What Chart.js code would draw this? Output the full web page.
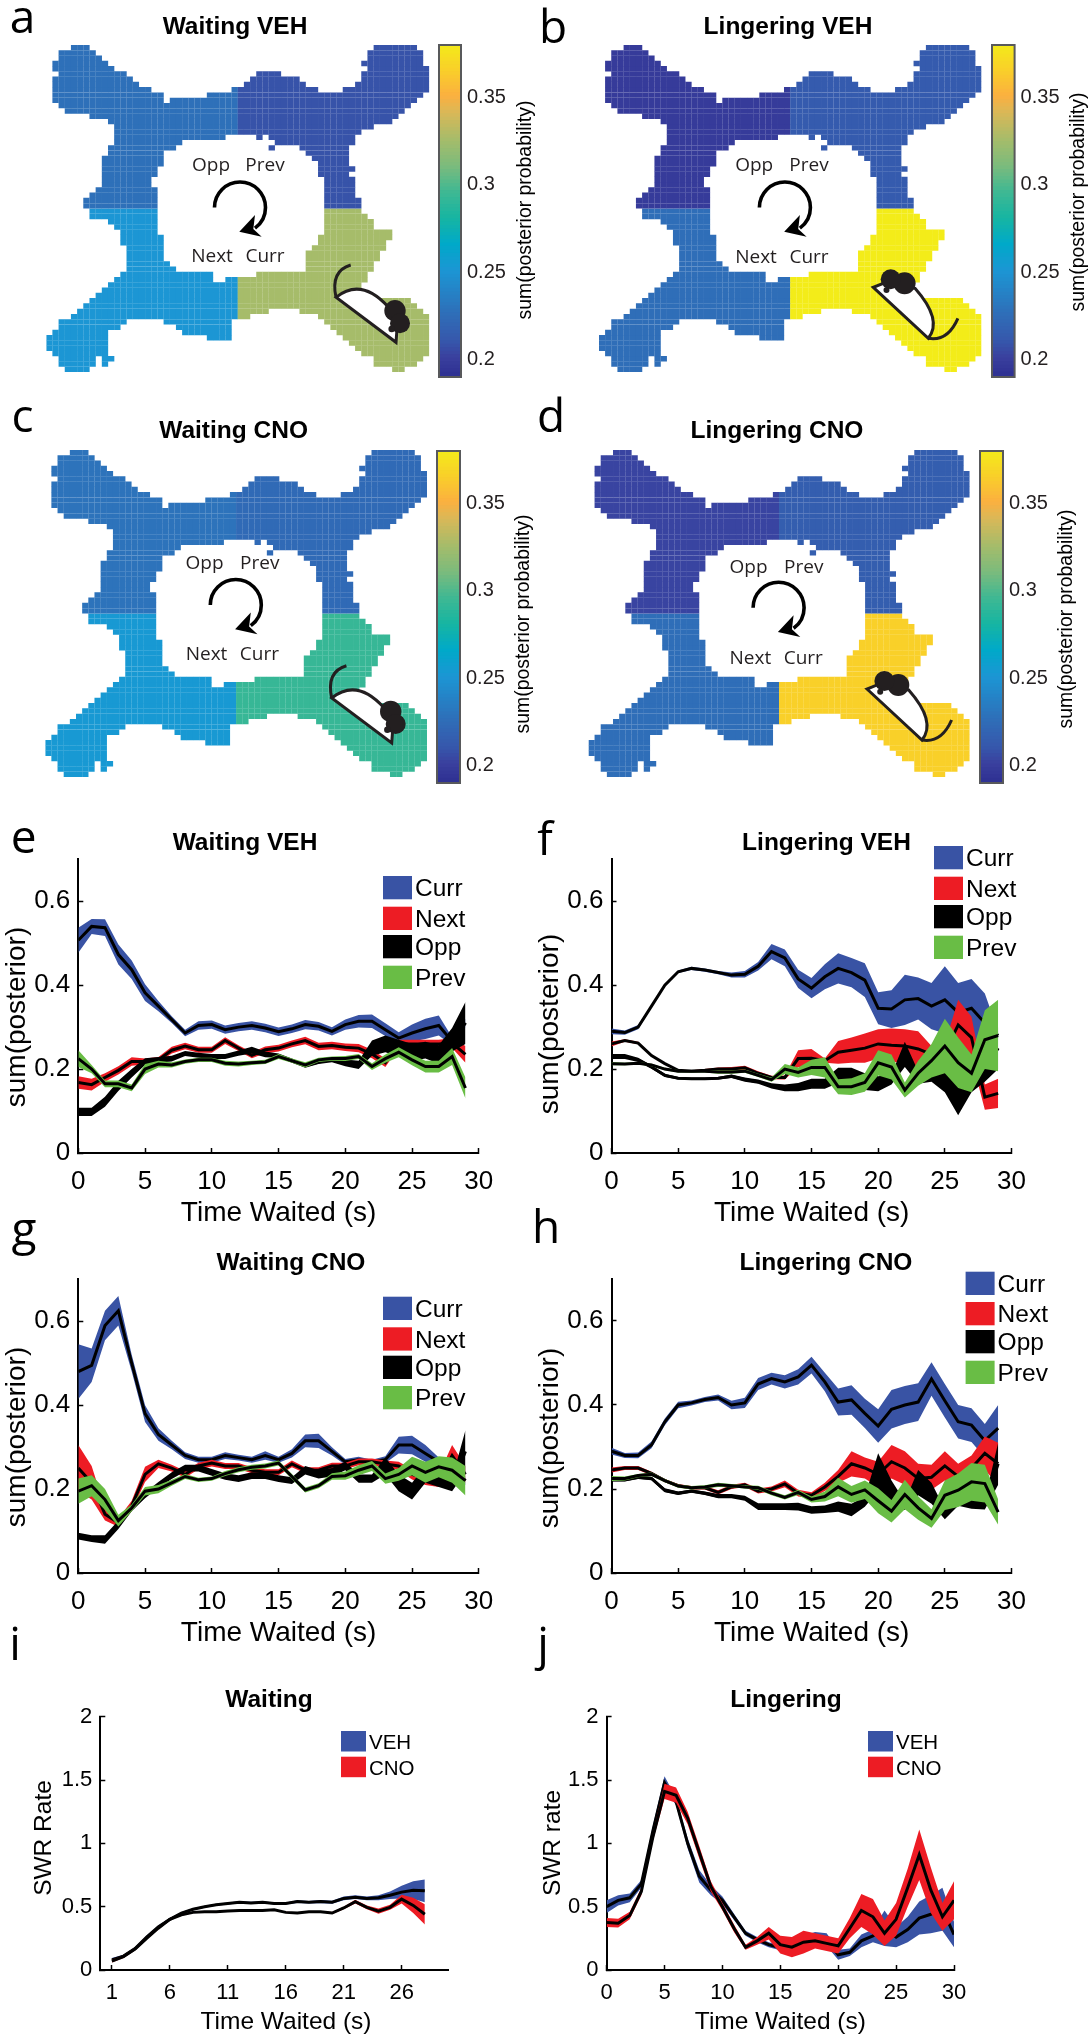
<!DOCTYPE html>
<html>
<head>
<meta charset="utf-8">
<title>Posterior by maze arm</title>
<script src="https://cdn.jsdelivr.net/npm/chart.js@4"></script>
<style>
  html, body { margin: 0; padding: 0; background: #fff; }
  #page { position: relative; width: 1092px; height: 2040px; overflow: hidden; }
  canvas { position: absolute; }
</style>
</head>
<body>
<div id="page"></div>
<script>
'use strict';

// --- maze occupancy, one list of [from, to) column runs per row ---
var MAZE_ROWS = [
  [[4,7],[53,60]], [[2,8],[52,61]], [[2,9],[52,61]], [[1,10],[51,61]], [[1,11],[52,62]],
  [[2,13],[34,38],[51,62]], [[1,14],[33,41],[51,62]], [[1,15],[32,42],[50,62]], [[1,17],[30,44],[48,62]],
  [[1,19],[26,61]], [[1,19],[20,60]], [[2,59]], [[3,58]], [[7,57]], [[10,56]], [[11,53]], [[11,51]],
  [[11,29],[34,35],[36,50]], [[11,22],[37,50]], [[10,21],[36,37],[41,49]], [[10,19],[42,49]],
  [[9,19],[43,49]], [[9,19],[44,49]], [[9,18],[44,50]], [[9,18],[44,49]], [[9,17],[45,50]], [[9,17],[45,50]],
  [[8,18],[45,50]], [[7,18],[45,50]], [[6,18],[45,51]], [[6,18],[45,51]],
  [[7,18],[45,51]], [[7,18],[45,52]], [[10,18],[45,53]], [[11,18],[45,53]], [[12,18],[45,56]],
  [[12,19],[44,56]], [[12,19],[44,55]], [[13,19],[43,55]], [[13,19],[42,54]], [[13,19],[42,54]],
  [[13,20],[42,53]], [[13,21],[42,53]], [[12,27],[34,52]], [[11,27],[29,52]], [[10,51]], [[9,51]], [[8,51]],
  [[7,59]], [[6,60]], [[5,36],[41,61]], [[4,33],[44,62]], [[2,13],[19,30],[45,62]], [[2,12],[21,30],[46,62]],
  [[1,10],[22,30],[47,62]], [[0,10],[26,30],[48,62]], [[0,10],[49,62]], [[0,10],[50,62]], [[1,10],[51,62]],
  [[2,8],[9,11],[53,61]], [[2,8],[9,10],[53,60]], [[3,7],[56,58]]
];

// summed posterior per arm: opp, prev, next, curr
var MAP_WAIT_VEH = [0.226, 0.208, 0.25, 0.325];
var MAP_LING_VEH = [0.197, 0.212, 0.225, 0.38];
var MAP_WAIT_CNO = [0.228, 0.222, 0.252, 0.292];
var MAP_LING_CNO = [0.202, 0.214, 0.225, 0.365];

var CBAR_TICKS = [0.2, 0.25, 0.3, 0.35];
var CBAR_VALUES = [0.19, 0.2, 0.21, 0.225, 0.25, 0.265, 0.28, 0.295, 0.31, 0.325, 0.34, 0.35, 0.365, 0.38];
var CBAR_COLORS = ['#2e3192', '#3a3f9e', '#3658ac', '#2f6eb8', '#1c96d4', '#00a9c9', '#16b5a2', '#3fb893', '#7cbb7c', '#a6bc6a', '#d8b858', '#fbb040', '#f9d029', '#f3ec19'];

var X_TICKS = [0, 5, 10, 15, 20, 25, 30];
var X_TICKS_SWR_WAIT = [1, 6, 11, 16, 21, 26];
var Y_TICKS_POST = [0, 0.2, 0.4, 0.6];
var Y_TICKS_SWR = [0, 0.5, 1, 1.5, 2];

var SEC_30 = [0,1,2,3,4,5,6,7,8,9,10,11,12,13,14,15,16,17,18,19,20,21,22,23,24,25,26,27,28,29];
var SEC_28 = [1,2,3,4,5,6,7,8,9,10,11,12,13,14,15,16,17,18,19,20,21,22,23,24,25,26,27,28];
var SEC_31 = [0,1,2,3,4,5,6,7,8,9,10,11,12,13,14,15,16,17,18,19,20,21,22,23,24,25,26,27,28,29,30];

// e: waiting VEH
var E_CURR = [.507,.54,.537,.473,.437,.382,.35,.318,.286,.304,.306,.294,.30,.304,.298,.289,.296,.306,.302,.29,.306,.314,.314,.294,.274,.286,.296,.304,.266,.31];
var E_CURR_SEM = [.03,.018,.02,.024,.022,.02,.012,.008,.008,.01,.01,.01,.01,.01,.01,.01,.01,.011,.01,.01,.012,.015,.016,.015,.014,.02,.024,.024,.01,.01];
var E_NEXT = [.168,.163,.18,.197,.218,.218,.222,.245,.255,.246,.246,.268,.25,.233,.246,.25,.26,.268,.254,.256,.252,.25,.236,.215,.26,.26,.26,.26,.262,.235];
var E_NEXT_SEM = [.015,.014,.01,.01,.01,.007,.007,.008,.008,.007,.007,.008,.007,.007,.008,.008,.008,.009,.009,.009,.009,.01,.01,.01,.01,.01,.01,.01,.012,.02];
var E_OPP = [.098,.098,.122,.16,.19,.218,.222,.225,.237,.233,.23,.23,.238,.245,.235,.232,.22,.208,.217,.222,.215,.21,.25,.26,.25,.24,.245,.235,.27,.31];
var E_OPP_SEM = [.01,.01,.012,.012,.01,.008,.007,.007,.006,.006,.006,.006,.006,.008,.007,.005,.005,.005,.005,.006,.008,.01,.018,.02,.02,.02,.02,.022,.028,.05];
var E_PREV = [.225,.2,.165,.165,.155,.2,.212,.21,.218,.222,.222,.214,.212,.215,.217,.23,.22,.21,.222,.225,.225,.23,.206,.225,.24,.222,.206,.206,.23,.155];
var E_PREV_SEM = [.02,.01,.008,.008,.008,.012,.008,.006,.005,.005,.005,.006,.006,.005,.005,.006,.005,.006,.005,.005,.006,.006,.008,.01,.012,.013,.014,.014,.02,.025];

// f: lingering VEH
var F_CURR = [.29,.287,.30,.35,.40,.432,.44,.436,.43,.424,.426,.445,.48,.465,.415,.393,.42,.44,.43,.412,.345,.343,.365,.368,.35,.365,.335,.345,.31,.28];
var F_CURR_SEM = [.007,.005,.005,.003,.003,.003,.004,.004,.004,.006,.008,.01,.018,.02,.022,.024,.03,.036,.035,.04,.038,.045,.06,.05,.055,.08,.07,.07,.07,.01];
var F_NEXT = [.26,.268,.262,.232,.213,.197,.195,.197,.2,.2,.203,.19,.18,.18,.225,.226,.22,.24,.245,.25,.26,.257,.255,.248,.235,.24,.305,.275,.133,.142];
var F_NEXT_SEM = [.006,.003,.003,.002,.002,.002,.002,.003,.004,.005,.005,.005,.004,.005,.02,.022,.005,.027,.03,.035,.035,.04,.04,.042,.02,.02,.06,.05,.03,.035];
var F_OPP = [.23,.23,.222,.205,.185,.178,.177,.177,.178,.183,.175,.17,.16,.155,.157,.165,.165,.185,.185,.17,.165,.175,.235,.18,.2,.185,.13,.165,.2,.25];
var F_OPP_SEM = [.006,.006,.005,.004,.004,.003,.003,.003,.003,.004,.005,.005,.006,.008,.01,.012,.012,.018,.018,.02,.018,.012,.03,.015,.03,.04,.04,.02,.03,.05];
var F_PREV = [.213,.212,.214,.21,.2,.195,.195,.195,.193,.193,.195,.185,.175,.2,.192,.204,.204,.158,.158,.168,.215,.205,.15,.19,.22,.255,.215,.19,.27,.28];
var F_PREV_SEM = [.004,.003,.003,.003,.003,.003,.003,.003,.004,.004,.004,.004,.005,.012,.012,.018,.024,.018,.02,.022,.03,.03,.018,.03,.04,.065,.06,.045,.07,.085];

// g: waiting CNO
var G_CURR = [.48,.495,.59,.625,.50,.38,.33,.305,.28,.27,.27,.28,.275,.27,.28,.27,.285,.315,.315,.29,.265,.27,.265,.27,.305,.305,.285,.265,.25,.22];
var G_CURR_SEM = [.065,.04,.035,.035,.02,.02,.015,.01,.008,.007,.007,.008,.007,.007,.01,.007,.01,.015,.017,.01,.007,.007,.005,.008,.02,.022,.02,.01,.01,.01];
var G_NEXT = [.25,.215,.14,.12,.16,.235,.26,.25,.235,.255,.262,.255,.255,.245,.24,.24,.26,.245,.245,.255,.255,.265,.265,.26,.255,.235,.225,.22,.28,.235];
var G_NEXT_SEM = [.055,.04,.015,.01,.012,.018,.01,.008,.008,.008,.008,.007,.007,.007,.007,.007,.008,.007,.007,.008,.008,.008,.008,.008,.01,.012,.015,.015,.025,.02];
var G_OPP = [.088,.082,.08,.115,.155,.185,.21,.232,.25,.25,.24,.23,.225,.232,.232,.225,.22,.245,.235,.24,.255,.225,.225,.255,.215,.195,.235,.22,.21,.29];
var G_OPP_SEM = [.008,.008,.01,.01,.008,.007,.007,.008,.008,.008,.008,.008,.008,.008,.008,.008,.008,.01,.01,.01,.01,.01,.01,.02,.02,.02,.02,.015,.015,.05];
var G_PREV = [.195,.208,.175,.125,.155,.195,.2,.215,.23,.222,.225,.237,.246,.252,.255,.262,.23,.198,.208,.23,.232,.245,.255,.225,.235,.255,.24,.253,.245,.22];
var G_PREV_SEM = [.03,.025,.025,.014,.008,.01,.01,.007,.006,.005,.005,.006,.006,.006,.006,.006,.006,.006,.006,.008,.01,.012,.012,.012,.015,.022,.025,.025,.03,.035];

// h: lingering CNO
var H_CURR = [.29,.28,.28,.305,.36,.40,.405,.413,.418,.40,.405,.45,.463,.455,.467,.495,.455,.407,.412,.38,.35,.39,.40,.407,.462,.41,.36,.352,.315,.345];
var H_CURR_SEM = [.008,.006,.007,.008,.008,.008,.006,.006,.007,.01,.012,.014,.014,.016,.018,.02,.022,.032,.035,.035,.04,.046,.045,.045,.04,.04,.04,.04,.04,.055];
var H_NEXT = [.245,.25,.25,.237,.22,.208,.203,.203,.192,.205,.21,.195,.2,.212,.19,.185,.205,.23,.26,.25,.235,.265,.25,.225,.228,.255,.23,.25,.285,.26];
var H_NEXT_SEM = [.006,.005,.005,.004,.004,.004,.004,.004,.005,.005,.005,.006,.006,.008,.008,.007,.01,.015,.03,.025,.03,.04,.04,.035,.03,.035,.03,.03,.04,.05];
var H_OPP = [.222,.222,.228,.225,.197,.19,.195,.19,.183,.183,.178,.158,.158,.158,.158,.15,.152,.158,.15,.17,.24,.19,.16,.215,.19,.14,.175,.165,.163,.26];
var H_OPP_SEM = [.004,.004,.004,.004,.005,.004,.004,.004,.005,.005,.006,.008,.008,.008,.009,.009,.009,.012,.015,.012,.045,.03,.01,.03,.025,.012,.015,.012,.012,.05];
var H_PREV = [.225,.225,.232,.235,.22,.207,.203,.205,.21,.208,.205,.203,.19,.18,.192,.175,.182,.205,.187,.198,.172,.147,.187,.155,.13,.185,.197,.217,.213,.145];
var H_PREV_SEM = [.006,.005,.004,.004,.004,.004,.004,.004,.005,.004,.004,.005,.005,.005,.006,.007,.012,.022,.02,.022,.03,.027,.035,.028,.022,.035,.04,.045,.045,.03];

// i: SWR rate while waiting
var I_VEH = [.08,.11,.17,.26,.34,.40,.45,.48,.50,.515,.525,.535,.53,.535,.525,.525,.54,.535,.54,.535,.565,.575,.565,.57,.59,.615,.63,.625];
var I_VEH_SEM = [.015,.01,.01,.012,.012,.01,.008,.008,.008,.008,.008,.008,.008,.008,.008,.008,.01,.01,.012,.012,.015,.015,.015,.02,.03,.05,.07,.09];
var I_CNO = [.07,.105,.165,.25,.33,.40,.435,.455,.46,.46,.465,.47,.47,.47,.475,.455,.45,.46,.46,.45,.49,.54,.495,.465,.495,.56,.51,.44];
var I_CNO_SEM = [.01,.01,.01,.01,.01,.008,.006,.005,.005,.005,.005,.005,.005,.005,.005,.005,.006,.005,.005,.008,.01,.015,.015,.02,.02,.035,.06,.08];

// j: SWR rate while lingering
var J_VEH = [.50,.55,.57,.68,1.1,1.48,1.33,1.0,.74,.63,.55,.42,.29,.24,.20,.175,.175,.22,.25,.24,.12,.14,.23,.27,.33,.26,.32,.41,.44,.48,.28];
var J_VEH_SEM = [.05,.04,.035,.03,.04,.05,.03,.04,.05,.04,.03,.025,.02,.02,.02,.02,.02,.05,.05,.05,.04,.03,.05,.05,.14,.08,.1,.13,.15,.17,.1];
var J_CNO = [.375,.37,.43,.62,1.05,1.41,1.38,1.2,.93,.66,.5,.33,.18,.23,.29,.2,.18,.22,.23,.21,.19,.33,.47,.42,.29,.4,.65,.91,.63,.42,.55];
var J_CNO_SEM = [.035,.035,.03,.03,.03,.06,.06,.05,.05,.04,.03,.03,.02,.03,.05,.07,.08,.09,.06,.06,.06,.08,.13,.14,.1,.13,.15,.2,.18,.11,.15];

var BLUE = '#3953a4', RED = '#ed1c24', BLACK = '#000000', GREEN = '#69bd45';
var INK = '#231f20';
var SANS = '"Liberation Sans", Arial, sans-serif';
var OPEN = '"Open Sans", sans-serif';

Chart.defaults.animation = false;
Chart.defaults.responsive = false;

function hexRgb(h) {
  return [parseInt(h.slice(1, 3), 16), parseInt(h.slice(3, 5), 16), parseInt(h.slice(5, 7), 16)];
}

// value to colour, same lookup for the maps and the colour bars
function cmap(v) {
  var i = 0;
  while (i < CBAR_VALUES.length - 2 && v > CBAR_VALUES[i + 1]) i++;
  var f = Math.min(1, Math.max(0, (v - CBAR_VALUES[i]) / (CBAR_VALUES[i + 1] - CBAR_VALUES[i])));
  var a = hexRgb(CBAR_COLORS[i]), b = hexRgb(CBAR_COLORS[i + 1]);
  return 'rgb(' + [0, 1, 2].map(function(k) { return Math.round(a[k] + (b[k] - a[k]) * f); }).join(',') + ')';
}

function addCanvas(frame) {
  var c = document.createElement('canvas');
  c.width = frame.w;
  c.height = frame.h;
  c.style.left = frame.x + 'px';
  c.style.top = frame.y + 'px';
  document.getElementById('page').appendChild(c);
  return c;
}

// free-placed text and legend patches, given in page coordinates
var pageText = {
  id: 'pageText',
  afterDraw: function(chart, args, opts) {
    var ctx = chart.ctx, fr = opts.frame;
    ctx.save();
    (opts.patches || []).forEach(function(p) {
      ctx.fillStyle = p.color;
      ctx.fillRect(p.x - fr.x, p.y - fr.y, p.w, p.h);
    });
    (opts.items || []).forEach(function(t) {
      ctx.save();
      ctx.translate(t.x - fr.x, t.y - fr.y);
      if (t.rot) ctx.rotate(t.rot);
      ctx.font = t.font;
      ctx.fillStyle = t.color || '#000';
      ctx.textAlign = t.align || 'center';
      ctx.textBaseline = t.base || 'middle';
      ctx.fillText(t.t, 0, 0);
      ctx.restore();
    });
    ctx.restore();
  }
};

var cbarFrame = {
  id: 'cbarFrame',
  afterDraw: function(chart) {
    var a = chart.chartArea, ctx = chart.ctx;
    ctx.save();
    ctx.strokeStyle = '#58595b';
    ctx.lineWidth = 2;
    ctx.strokeRect(a.left, a.top, a.right - a.left, a.bottom - a.top);
    ctx.restore();
  }
};

// turn arrow and the rat sketch on top of a map
var mapSketch = {
  id: 'mapSketch',
  afterDraw: function(chart, args, o) {
    var ctx = chart.ctx, a = chart.chartArea;
    ctx.save();
    ctx.translate(a.left, a.top);
    ctx.strokeStyle = '#000';
    ctx.fillStyle = '#000';
    ctx.lineWidth = 3.6;
    ctx.beginPath();
    ctx.arc(o.arrow[0], o.arrow[1], 25.5, Math.PI, Math.PI * 2.3);
    ctx.stroke();
    ctx.save();
    ctx.translate(o.arrow[0], o.arrow[1]);
    ctx.beginPath();
    ctx.moveTo(-0.7, 24.2);
    ctx.lineTo(15, 7.5);
    ctx.lineTo(13.3, 21.5);
    ctx.lineTo(21.7, 29.2);
    ctx.closePath();
    ctx.fill();
    ctx.restore();

    ctx.translate(o.rat[0], o.rat[1]);
    ctx.strokeStyle = INK;
    ctx.fillStyle = INK;
    ctx.lineWidth = 3;
    ctx.lineJoin = 'miter';
    if (o.pose === 'down') {
      ctx.beginPath();
      ctx.moveTo(289.7, 252.3);
      ctx.quadraticCurveTo(315, 232, 342, 262);
      ctx.lineTo(351, 280);
      ctx.lineTo(349.7, 297.3);
      ctx.closePath();
      ctx.fillStyle = '#fff';
      ctx.fill();
      ctx.stroke();
      ctx.beginPath();
      ctx.moveTo(304.4, 220);
      ctx.quadraticCurveTo(284, 226, 289.7, 252.3);
      ctx.stroke();
      ctx.fillStyle = INK;
      [[348.7, 265.7, 10.7], [353.7, 278.3, 10], [345.4, 284, 3.3]].forEach(function(d) {
        ctx.beginPath();
        ctx.arc(d[0], d[1], d[2], 0, Math.PI * 2);
        ctx.fill();
      });
    } else {
      ctx.beginPath();
      ctx.moveTo(274.3, 242.3);
      ctx.lineTo(329.3, 293.3);
      ctx.quadraticCurveTo(344, 275, 316, 243.3);
      ctx.lineTo(285, 238);
      ctx.closePath();
      ctx.fillStyle = '#fff';
      ctx.fill();
      ctx.stroke();
      ctx.beginPath();
      ctx.moveTo(329.3, 293.3);
      ctx.quadraticCurveTo(348.7, 296.7, 358.9, 273.3);
      ctx.stroke();
      ctx.fillStyle = INK;
      [[305.6, 238.3, 11], [291.7, 234.3, 10], [287.5, 245, 3]].forEach(function(d) {
        ctx.beginPath();
        ctx.arc(d[0], d[1], d[2], 0, Math.PI * 2);
        ctx.fill();
      });
    }
    ctx.restore();
  }
};

function mapDatasets(vals) {
  return MAZE_ROWS.map(function(runs, r) {
    var data = [], colors = [];
    for (var c = 0; c < 62; c++) {
      var hit = runs.some(function(u) { return c >= u[0] && c < u[1]; });
      data.push(hit ? [r, r + 1] : null);
      colors.push(cmap(vals[(r < 31 ? 0 : 2) + (c < 31 ? 0 : 1)]));
    }
    return { data: data, backgroundColor: colors, borderWidth: 0, inflateAmount: 0.08,
             grouped: false, barPercentage: 1, categoryPercentage: 1 };
  });
}

function drawMap(p) {
  var fr = p.frame, pl = p.plot;
  var labels = [];
  for (var i = 0; i < 62; i++) labels.push(String(i));
  var items = [
    { t: p.letter[0], x: p.letter[1], y: p.letter[2], font: '46px ' + OPEN, base: 'alphabetic' },
    { t: p.title, x: p.titleX, y: p.titleY, font: 'bold 24.5px ' + SANS }
  ].concat(p.arms.map(function(a) {
    return { t: a[0], x: a[1], y: a[2], font: '19px ' + OPEN, color: INK };
  }));
  new Chart(addCanvas(fr), {
    type: 'bar',
    data: { labels: labels, datasets: mapDatasets(p.vals) },
    plugins: [mapSketch, pageText],
    options: {
      layout: { padding: { left: pl.l - fr.x, right: fr.x + fr.w - pl.r, top: pl.t - fr.y, bottom: fr.y + fr.h - pl.b } },
      scales: {
        x: { display: false },
        y: { display: false, min: 0, max: 62, reverse: true }
      },
      plugins: {
        legend: { display: false },
        tooltip: { enabled: false },
        mapSketch: { arrow: p.arrow, rat: p.rat, pose: p.pose },
        pageText: { frame: fr, items: items }
      }
    }
  });
  drawColorbar(p);
}

function drawColorbar(p) {
  var b = p.bar;
  var fr = { x: b.l - 6, y: b.t - 6, w: 100, h: b.b - b.t + 12 };
  var step = 0.002, sets = [];
  for (var v = 0.19; v < 0.38; v += step) {
    sets.push({ data: [[v, Math.min(0.38, v + step * 1.4)]], backgroundColor: cmap(v + step / 2), borderWidth: 0,
                grouped: false, barPercentage: 1, categoryPercentage: 1 });
  }
  new Chart(addCanvas(fr), {
    type: 'bar',
    data: { labels: ['bar'], datasets: sets },
    plugins: [cbarFrame],
    options: {
      layout: { padding: { left: b.l - fr.x, top: b.t - fr.y, bottom: fr.y + fr.h - b.b, right: 0 } },
      scales: {
        x: { display: false },
        y: {
          position: 'right', min: 0.19, max: 0.38,
          afterBuildTicks: function(s) { s.ticks = CBAR_TICKS.map(function(t) { return { value: t }; }); },
          afterFit: function(s) { s.width = fr.x + fr.w - b.r; s.paddingTop = 0; s.paddingBottom = 0; },
          border: { display: false },
          grid: { drawOnChartArea: false, tickLength: -3, tickWidth: 1.5, tickColor: '#414042' },
          ticks: { color: INK, font: { family: SANS, size: 20 }, padding: 9, autoSkip: false,
                   callback: function(v) { return String(v); } }
        }
      },
      plugins: { legend: { display: false }, tooltip: { enabled: false } }
    }
  });
  // the bar's label runs past the small canvas, so it sits on its own layer
  var lf = { x: b.titleX - 16, y: b.titleY - 130, w: 32, h: 260 };
  new Chart(addCanvas(lf), {
    type: 'bar',
    data: { labels: [], datasets: [] },
    plugins: [pageText],
    options: {
      scales: { x: { display: false }, y: { display: false } },
      plugins: {
        legend: { display: false }, tooltip: { enabled: false },
        pageText: { frame: lf, items: [{ t: 'sum(posterior probability)', x: b.titleX, y: b.titleY, rot: -Math.PI / 2, font: '19.4px ' + SANS }] }
      }
    }
  });
}

function bandSets(xs, s) {
  var pts = function(sign) {
    return xs.map(function(x, i) { return { x: x, y: s.mean[i] + sign * s.sem[i] }; });
  };
  return [
    { data: pts(0), borderColor: '#000', borderWidth: 3, borderJoinStyle: 'miter', pointRadius: 0, fill: false, tension: 0 },
    { data: pts(1), borderWidth: 0, pointRadius: 0, fill: '+1', backgroundColor: s.color, tension: 0 },
    { data: pts(-1), borderWidth: 0, pointRadius: 0, fill: false, tension: 0 }
  ];
}

function drawLines(p) {
  var fr = p.frame, pl = p.plot, f = p.sizes;
  var sets = [];
  // first in the array is painted last
  p.series.slice().reverse().forEach(function(s) { sets = sets.concat(bandSets(p.xs, s)); });
  var patches = p.series.map(function(s, i) {
    return { x: p.legend.x, y: p.legend.tops[i], w: p.legend.w, h: p.legend.h, color: s.color };
  });
  var items = p.series.map(function(s, i) {
    return { t: s.name, x: p.legend.x + p.legend.w + 3, y: p.legend.tops[i] + p.legend.h / 2 + 2,
             font: f.legend + 'px ' + SANS, align: 'left' };
  }).concat([
    { t: p.letter[0], x: p.letter[1], y: p.letter[2], font: '46px ' + OPEN, base: 'alphabetic' },
    { t: p.title, x: p.titleX, y: p.titleY, font: 'bold 24.5px ' + SANS },
    { t: 'Time Waited (s)', x: p.xTitle[0], y: p.xTitle[1], font: f.axis + 'px ' + SANS },
    { t: p.yTitle[0], x: p.yTitle[1], y: p.yTitle[2], rot: -Math.PI / 2, font: f.axis + 'px ' + SANS }
  ]);
  new Chart(addCanvas(fr), {
    type: 'line',
    data: { datasets: sets },
    plugins: [pageText],
    options: {
      layout: { padding: { left: 0, bottom: 0, top: pl.t - fr.y, right: fr.x + fr.w - pl.r } },
      scales: {
        x: {
          type: 'linear', min: 0, max: 30,
          afterBuildTicks: function(s) { s.ticks = p.xTicks.map(function(t) { return { value: t }; }); },
          afterFit: function(s) { s.height = fr.y + fr.h - pl.b; s.paddingLeft = 0; s.paddingRight = 0; },
          border: { color: '#000', width: 2 },
          grid: { drawOnChartArea: false, tickLength: -5, tickWidth: 1.5, tickColor: '#000' },
          ticks: { color: '#000', font: { family: SANS, size: f.tick }, padding: f.xPad, autoSkip: false, maxRotation: 0,
                   callback: function(v) { return String(v); } }
        },
        y: {
          min: 0, max: p.yMax,
          afterBuildTicks: function(s) { s.ticks = p.yTicks.map(function(t) { return { value: t }; }); },
          afterFit: function(s) { s.width = pl.l - fr.x; s.paddingTop = 0; s.paddingBottom = 0; },
          border: { color: '#000', width: 2 },
          grid: { drawOnChartArea: false, tickLength: -5, tickWidth: 1.5, tickColor: '#000' },
          ticks: { color: '#000', font: { family: SANS, size: f.tick }, padding: 13, autoSkip: false,
                   callback: function(v) { return String(v); } }
        }
      },
      plugins: {
        legend: { display: false }, tooltip: { enabled: false },
        pageText: { frame: fr, items: items, patches: patches }
      }
    }
  });
}

function arms(name, vals, mean, sem) { return { name: name, color: vals, mean: mean, sem: sem }; }

function posteriorPanel(o) {
  drawLines({
    frame: o.frame, plot: o.plot, xs: SEC_30, xTicks: X_TICKS, yTicks: Y_TICKS_POST, yMax: 0.7,
    series: o.series, letter: o.letter, title: o.title, titleX: o.titleX, titleY: o.titleY,
    xTitle: o.xTitle, yTitle: ['sum(posterior)', o.yTitleX, o.yTitleY],
    legend: { x: o.legX, tops: o.legTops, w: 29, h: 23.3 },
    sizes: { tick: 26, axis: 28, legend: 24.5, xPad: 18 }
  });
}

function swrPanel(o) {
  drawLines({
    frame: o.frame, plot: o.plot, xs: o.xs, xTicks: o.xTicks, yTicks: Y_TICKS_SWR, yMax: 2,
    series: o.series, letter: o.letter, title: o.title, titleX: o.titleX, titleY: 1700.7,
    xTitle: o.xTitle, yTitle: o.yTitle,
    legend: { x: o.legX, tops: [1731, 1756.7], w: 25, h: 20.5 },
    sizes: { tick: 22, axis: 24.5, legend: 20.5, xPad: 15 }
  });
}

// --- maps ---
drawMap({
  vals: MAP_WAIT_VEH, frame: { x: 0, y: 0, w: 530, h: 405 }, plot: { l: 46.3, r: 429.3, t: 45, b: 372 },
  letter: ['a', 22.6, 33], title: 'Waiting VEH', titleX: 235, titleY: 27,
  arms: [['Opp', 211, 165.7], ['Prev', 265, 165.7], ['Next', 212, 256.7], ['Curr', 265, 256.7]],
  arrow: [193.7, 162.5], rat: [0, 0], pose: 'down',
  bar: { l: 439, r: 461, t: 45, b: 377.5, titleX: 525.8, titleY: 210 }
});
drawMap({
  vals: MAP_LING_VEH, frame: { x: 530, y: 0, w: 562, h: 405 }, plot: { l: 599, r: 981.5, t: 45, b: 372 },
  letter: ['b', 553, 43], title: 'Lingering VEH', titleX: 788, titleY: 27,
  arms: [['Opp', 754.2, 165.7], ['Prev', 809, 165.7], ['Next', 756, 257.3], ['Curr', 809, 257.3]],
  arrow: [185.9, 162.5], rat: [0, 0], pose: 'up',
  bar: { l: 991.7, r: 1014.3, t: 45, b: 377.5, titleX: 1078.7, titleY: 202 }
});
drawMap({
  vals: MAP_WAIT_CNO, frame: { x: 0, y: 390, w: 530, h: 410 }, plot: { l: 45.3, r: 427, t: 450, b: 777 },
  letter: ['c', 22.6, 431.7], title: 'Waiting CNO', titleX: 233.6, titleY: 431.7,
  arms: [['Opp', 204.5, 563.3], ['Prev', 259.8, 563.3], ['Next', 206.5, 655], ['Curr', 259.4, 655]],
  arrow: [190.5, 155], rat: [-3.3, -4.3], pose: 'down',
  bar: { l: 437, r: 460, t: 450.7, b: 783, titleX: 524, titleY: 624 }
});
drawMap({
  vals: MAP_LING_CNO, frame: { x: 530, y: 390, w: 562, h: 410 }, plot: { l: 588.5, r: 969.7, t: 450, b: 777 },
  letter: ['d', 551, 431.7], title: 'Lingering CNO', titleX: 777, titleY: 431.7,
  arms: [['Opp', 748.6, 567.3], ['Prev', 803.7, 567.3], ['Next', 750.4, 658.3], ['Curr', 803.3, 658.3]],
  arrow: [190.1, 157.7], rat: [4.2, -3.3], pose: 'up',
  bar: { l: 979.8, r: 1002.8, t: 450.7, b: 783, titleX: 1066.5, titleY: 619 }
});

// --- posterior over time ---
posteriorPanel({
  frame: { x: 0, y: 800, w: 530, h: 430 }, plot: { l: 78.3, r: 478.8, t: 859.3, b: 1153 },
  letter: ['e', 23.7, 853], title: 'Waiting VEH', titleX: 245, titleY: 843,
  xTitle: [278.6, 1213], yTitleX: 17.4, yTitleY: 1017, legX: 383, legTops: [876, 906.7, 935, 965.7],
  series: [arms('Curr', BLUE, E_CURR, E_CURR_SEM), arms('Next', RED, E_NEXT, E_NEXT_SEM), arms('Opp', BLACK, E_OPP, E_OPP_SEM), arms('Prev', GREEN, E_PREV, E_PREV_SEM)]
});
posteriorPanel({
  frame: { x: 530, y: 800, w: 562, h: 430 }, plot: { l: 611.5, r: 1011.5, t: 859.3, b: 1153 },
  letter: ['f', 545, 855], title: 'Lingering VEH', titleX: 826.5, titleY: 843,
  xTitle: [811.7, 1213], yTitleX: 550.5, yTitleY: 1024, legX: 934, legTops: [846, 876.7, 905, 935.7],
  series: [arms('Curr', BLUE, F_CURR, F_CURR_SEM), arms('Next', RED, F_NEXT, F_NEXT_SEM), arms('Opp', BLACK, F_OPP, F_OPP_SEM), arms('Prev', GREEN, F_PREV, F_PREV_SEM)]
});
posteriorPanel({
  frame: { x: 0, y: 1200, w: 530, h: 450 }, plot: { l: 78.3, r: 478.8, t: 1279.3, b: 1573 },
  letter: ['g', 24, 1245], title: 'Waiting CNO', titleX: 291, titleY: 1263,
  xTitle: [278.6, 1633], yTitleX: 17.4, yTitleY: 1437, legX: 383, legTops: [1296.7, 1327.3, 1355.7, 1386],
  series: [arms('Curr', BLUE, G_CURR, G_CURR_SEM), arms('Next', RED, G_NEXT, G_NEXT_SEM), arms('Opp', BLACK, G_OPP, G_OPP_SEM), arms('Prev', GREEN, G_PREV, G_PREV_SEM)]
});
posteriorPanel({
  frame: { x: 530, y: 1200, w: 562, h: 450 }, plot: { l: 611.5, r: 1011.5, t: 1279, b: 1573 },
  letter: ['h', 546, 1243], title: 'Lingering CNO', titleX: 826, titleY: 1263,
  xTitle: [811.7, 1633], yTitleX: 550.5, yTitleY: 1438, legX: 965.6, legTops: [1271.7, 1302, 1330, 1360.7],
  series: [arms('Curr', BLUE, H_CURR, H_CURR_SEM), arms('Next', RED, H_NEXT, H_NEXT_SEM), arms('Opp', BLACK, H_OPP, H_OPP_SEM), arms('Prev', GREEN, H_PREV, H_PREV_SEM)]
});

// --- ripple rate ---
swrPanel({
  frame: { x: 0, y: 1610, w: 530, h: 430 }, plot: { l: 100.3, r: 448, t: 1716.7, b: 1970 },
  xs: SEC_28, xTicks: X_TICKS_SWR_WAIT, letter: ['i', 15, 1660], title: 'Waiting', titleX: 269,
  xTitle: [286, 2022.7], yTitle: ['SWR Rate', 44.6, 1838], legX: 341,
  series: [arms('VEH', BLUE, I_VEH, I_VEH_SEM), arms('CNO', RED, I_CNO, I_CNO_SEM)]
});
swrPanel({
  frame: { x: 530, y: 1610, w: 562, h: 430 }, plot: { l: 606.6, r: 954, t: 1716.7, b: 1970 },
  xs: SEC_31, xTicks: X_TICKS, letter: ['j', 543, 1660], title: 'Lingering', titleX: 786,
  xTitle: [780.4, 2022.7], yTitle: ['SWR rate', 553, 1843], legX: 868,
  series: [arms('VEH', BLUE, J_VEH, J_VEH_SEM), arms('CNO', RED, J_CNO, J_CNO_SEM)]
});
</script>
</body>
</html>
